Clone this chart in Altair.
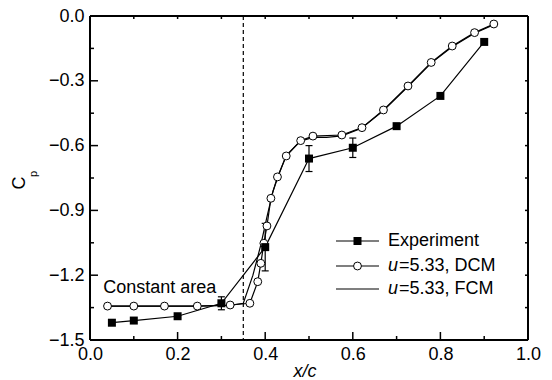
import altair as alt
import pandas as pd

# ---- data -------------------------------------------------------------
exp_x = [0.05, 0.10, 0.20, 0.30, 0.40, 0.50, 0.60, 0.70, 0.80, 0.90]
exp_cp = [-1.42, -1.41, -1.39, -1.33, -1.07, -0.66, -0.61, -0.51, -0.37, -0.12]
exp_err = [0.0, 0.0, 0.0, 0.03, 0.11, 0.06, 0.045, 0.0, 0.0, 0.0]

dcm_x = [0.04, 0.10, 0.17, 0.245, 0.32, 0.365, 0.383, 0.39, 0.397, 0.404,
         0.413, 0.428, 0.448, 0.481, 0.509, 0.575, 0.621, 0.67, 0.726,
         0.779, 0.827, 0.878, 0.922]
dcm_cp = [-1.343, -1.343, -1.343, -1.343, -1.338, -1.33, -1.23, -1.145,
          -1.052, -0.972, -0.844, -0.745, -0.648, -0.577, -0.556, -0.551,
          -0.517, -0.435, -0.324, -0.215, -0.139, -0.077, -0.037]

fcm_x = [0.04, 0.10, 0.17, 0.245, 0.32, 0.35, 0.372, 0.39, 0.404, 0.418,
         0.43, 0.448, 0.48, 0.51, 0.54, 0.575, 0.62, 0.67, 0.726, 0.779,
         0.827, 0.878, 0.922]
fcm_cp = [-1.343, -1.343, -1.343, -1.343, -1.34, -1.33, -1.2, -1.06, -0.93,
          -0.81, -0.74, -0.645, -0.58, -0.562, -0.562, -0.555, -0.52,
          -0.438, -0.327, -0.218, -0.142, -0.08, -0.04]

throat_x = [0.35]

x_major = [0.0, 0.2, 0.4, 0.6, 0.8, 1.0]
x_minor = [0.1, 0.3, 0.5, 0.7, 0.9]
y_major = [0.0, -0.3, -0.6, -0.9, -1.2, -1.5]
y_minor = [-0.15, -0.45, -0.75, -1.05, -1.35]

# ---- layout -----------------------------------------------------------
W, H = 438, 324
X0, X1 = 0.0, 1.0
Y0, Y1 = -1.5, 0.0
FONT = "Liberation Sans"
FS = 18

xs = alt.Scale(domain=[X0, X1], nice=False, zero=False, padding=0)
ys = alt.Scale(domain=[Y0, Y1], nice=False, zero=False, padding=0)

# pixel -> data-unit conversion for tick lengths
px_x = (X1 - X0) / W
px_y = (Y1 - Y0) / H


def X(field):
    return alt.X(field, type="quantitative", scale=xs, title=None)


def Y(field):
    return alt.Y(field, type="quantitative", scale=ys, title=None)


exp_df = pd.DataFrame({"x": exp_x, "cp": exp_cp, "err": exp_err})
exp_df["lo"] = exp_df["cp"] - exp_df["err"]
exp_df["hi"] = exp_df["cp"] + exp_df["err"]
err_df = exp_df[exp_df["err"] > 0]
dcm_df = pd.DataFrame({"x": dcm_x, "cp": dcm_cp})
fcm_df = pd.DataFrame({"x": fcm_x, "cp": fcm_cp})

# axes carry the labels only; the inward ticks are drawn as rules below
axis_x = alt.Axis(values=x_major, format=".1f", ticks=False, domain=False,
                  grid=False, labelFont=FONT, labelFontSize=FS,
                  labelColor="black", labelPadding=5, labelFlush=False,
                  labelOverlap=False, title=None)
axis_y = alt.Axis(values=y_major, format=".1f", ticks=False, domain=False,
                  grid=False, labelFont=FONT, labelFontSize=FS,
                  labelColor="black", labelPadding=6, labelFlush=False,
                  labelOverlap=False, title=None)

fcm_line = alt.Chart(fcm_df).mark_line(color="black", strokeWidth=1.2).encode(
    x=alt.X("x:Q", scale=xs, axis=axis_x, title=None),
    y=alt.Y("cp:Q", scale=ys, axis=axis_y, title=None),
    order="x:Q",
)

dcm_line = alt.Chart(dcm_df).mark_line(color="black", strokeWidth=1.2).encode(
    x=X("x"), y=Y("cp"), order="x:Q",
)
dcm_pts = alt.Chart(dcm_df).mark_point(
    shape="circle", filled=True, fill="white", stroke="black",
    strokeWidth=1.0, size=62, opacity=1,
).encode(x=X("x"), y=Y("cp"))

exp_line = alt.Chart(exp_df).mark_line(color="black", strokeWidth=1.2).encode(
    x=X("x"), y=Y("cp"), order="x:Q",
)
exp_bar = alt.Chart(err_df).mark_rule(color="black", strokeWidth=1.2).encode(
    x=X("x"), y=Y("lo"), y2="hi:Q",
)
exp_cap_lo = alt.Chart(err_df).mark_tick(
    color="black", orient="horizontal", size=7, thickness=1.2, opacity=1
).encode(x=X("x"), y=Y("lo"))
exp_cap_hi = alt.Chart(err_df).mark_tick(
    color="black", orient="horizontal", size=7, thickness=1.2, opacity=1
).encode(x=X("x"), y=Y("hi"))
exp_pts = alt.Chart(exp_df).mark_point(
    shape="square", filled=True, color="black", size=64, opacity=1
).encode(x=X("x"), y=Y("cp"))

throat = alt.Chart(pd.DataFrame({"x": throat_x})).mark_rule(
    color="black", strokeWidth=1.2, strokeDash=[4, 3]
).encode(x=X("x"))

note = alt.Chart(pd.DataFrame({"x": [0.03], "y": [-1.282], "t": ["Constant area"]})).mark_text(
    font=FONT, fontSize=FS, align="left", baseline="alphabetic", color="black"
).encode(x=X("x"), y=Y("y"), text="t:N")

# ---- plot frame ----------------------------------------------------------
frame_v = alt.Chart(pd.DataFrame({"x": [X0, X1]})).mark_rule(
    color="black", strokeWidth=2).encode(x=X("x"))
frame_h = alt.Chart(pd.DataFrame({"cp": [Y0, Y1]})).mark_rule(
    color="black", strokeWidth=2).encode(y=Y("cp"))


# ---- inward ticks on all four sides -------------------------------------
def vticks(vals, base, length_px):
    df = pd.DataFrame({"x": vals})
    df["a"] = base
    df["b"] = base + length_px * px_y * (1 if base == Y0 else -1)
    return alt.Chart(df).mark_rule(color="black", strokeWidth=1.5).encode(
        x=X("x"), y=Y("a"), y2="b:Q")


def hticks(vals, base, length_px):
    df = pd.DataFrame({"cp": vals})
    df["a"] = base
    df["b"] = base + length_px * px_x * (1 if base == X0 else -1)
    return alt.Chart(df).mark_rule(color="black", strokeWidth=1.5).encode(
        y=Y("cp"), x=X("a"), x2="b:Q")


ticks = [
    vticks(x_major, Y0, 8),
    vticks(x_minor, Y0, 4),
    vticks(x_major + x_minor, Y1, 3),
    hticks(y_major, X0, 8),
    hticks(y_minor, X0, 4),
    hticks(y_major + y_minor, X1, 3),
]

# ---- legend ------------------------------------------------------------
one = pd.DataFrame({"k": [0]})
rows = [225, 250, 273]
LX0, LX1, LXM, TX = 246, 289, 267.5, 298

legend = []
for ry in rows:
    legend.append(alt.Chart(one).mark_rule(color="black", strokeWidth=1.2).encode(
        x=alt.value(LX0), x2=alt.value(LX1), y=alt.value(ry)))
legend.append(alt.Chart(one).mark_point(
    shape="square", filled=True, color="black", size=64, opacity=1
).encode(x=alt.value(LXM), y=alt.value(rows[0])))
legend.append(alt.Chart(one).mark_point(
    shape="circle", filled=True, fill="white", stroke="black",
    strokeWidth=1.0, size=62, opacity=1
).encode(x=alt.value(LXM), y=alt.value(rows[1])))


def label(txt, x, y, style="normal", size=FS, angle=0, align="left", baseline="middle"):
    kw = dict(font=FONT, fontSize=size, fontStyle=style, align=align,
              baseline=baseline, color="black", text=txt)
    if angle:
        kw["angle"] = angle
    return alt.Chart(one).mark_text(**kw).encode(x=alt.value(x), y=alt.value(y))


legend += [
    label("Experiment", TX, rows[0]),
    label("u", TX, rows[1], style="italic"),
    label("=5.33, DCM", TX + 11, rows[1]),
    label("u", TX, rows[2], style="italic"),
    label("=5.33, FCM", TX + 11, rows[2]),
]

# ---- axis titles ---------------------------------------------------------
titles = [
    label("x/c", 215, 361, style="italic", align="center", baseline="alphabetic"),
    label("C", -70, 167, angle=270, align="center"),
    label("p", -56, 158, size=11, angle=270, align="center"),
]

chart = alt.layer(
    fcm_line, dcm_line, exp_line, throat, exp_bar, exp_cap_lo, exp_cap_hi,
    dcm_pts, exp_pts, note, frame_v, frame_h, *ticks, *legend, *titles
).properties(
    width=W, height=H,
    autosize=alt.AutoSizeParams(type="none"),
    padding={"left": 90, "top": 16, "right": 552 - 90 - W, "bottom": 380 - 16 - H},
).configure_view(
    strokeWidth=0
).configure(background="white")

chart.save("out.html", embed_options={"renderer": "svg", "actions": False})
